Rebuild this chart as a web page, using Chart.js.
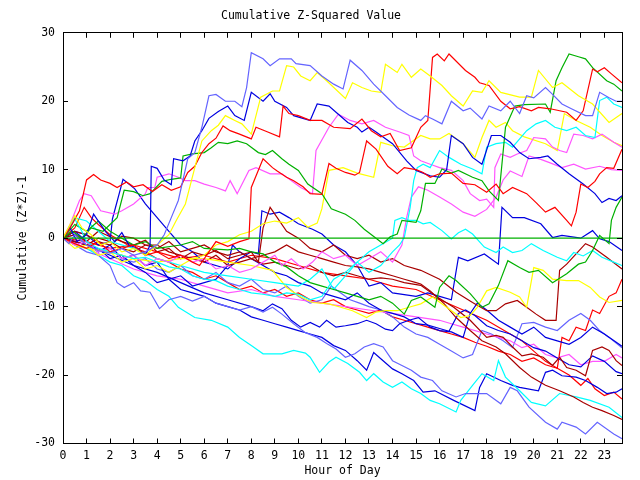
<!DOCTYPE html>
<html>
<head>
<meta charset="utf-8">
<script src="https://cdn.jsdelivr.net/npm/chart.js@4.4.1/dist/chart.umd.min.js"></script>
<style>
  html, body { margin: 0; padding: 0; background: #fff; }
</style>
</head>
<body>
<canvas id="zchart" width="640" height="480"></canvas>
<script>
// axis ticks
const hourTicks = [0,1,2,3,4,5,6,7,8,9,10,11,12,13,14,15,16,17,18,19,20,21,22,23];
const valueTicks = [-30,-20,-10,0,10,20,30];

// each series: [hour, cumulative value]
const zeroLine = [[0,0],[23.75,0]];

const lblueTop = [[0,0],[0.25,-0.8],[0.5,0.5],[1,-1],[1.5,-1.8],[2,-2.2],[2.5,-1.5],[3,-2.5],[3.5,-2],[4,-1],[4.3,0.5],[4.6,3],[4.9,5.5],[5.3,11.6],[5.6,12.5],[5.9,16.2],[6.2,20.8],[6.5,21],[6.9,20],[7.3,20],[7.6,19.2],[7.8,22],[8.0,27.1],[8.5,26.2],[8.8,25.2],[9.2,26.2],[9.7,26.2],[9.9,25.5],[10.5,25.2],[11,23.7],[11.5,22.5],[11.9,21.8],[12.2,26],[12.7,24.5],[13.2,22.5],[13.7,20.8],[14.2,19.1],[14.7,18],[15.2,17.2],[15.4,17.9],[15.7,17.4],[16.1,16.7],[16.5,20],[17,18.6],[17.3,19],[17.8,17.4],[18.1,19.3],[18.6,18.6],[19,20],[19.4,18.2],[19.7,20.8],[20,20.5],[20.5,22],[20.8,21],[21.2,19.6],[21.6,18.9],[22.2,17.9],[22.5,17.9],[22.8,21.3],[23.2,20.5],[23.5,20],[23.75,20]];

const yellowTop = [[0,0],[0.3,2],[0.5,3.3],[0.8,1.5],[1.2,0.5],[1.6,-1],[2,-0.5],[2.5,-2],[3,-1.5],[3.5,-2.5],[4,-1],[4.5,0.5],[4.8,2.5],[5.2,5],[5.6,10.3],[5.9,14.2],[6.3,15.7],[6.6,16.5],[6.9,17.9],[7.3,17.2],[7.6,16.7],[8.0,15.2],[8.4,20.6],[8.9,21.5],[9.2,21.5],[9.5,25.2],[9.8,25],[10.1,23.7],[10.5,23],[10.8,24.2],[11.2,23],[12,20.4],[12.3,22.7],[12.7,22],[13.1,21.5],[13.5,21.3],[13.7,25.4],[14.2,24.2],[14.4,25.4],[14.8,23.5],[15.2,24.7],[15.6,23.7],[16.1,22.3],[16.5,20.8],[17,19.3],[17.4,21.5],[17.8,21.3],[18.1,23],[18.6,21.3],[19.4,20.6],[19.9,20.6],[20.2,24.5],[20.8,22],[21.2,22.7],[21.9,20.8],[22.5,19.6],[23.2,16.9],[23.75,18.2]];

const redTop = [[0,0],[0.3,1.5],[0.7,4],[1,8.5],[1.3,9.3],[1.6,8.5],[2,8],[2.3,7.4],[2.7,8.2],[3,7.5],[3.4,7.8],[3.8,6.8],[4.2,7.8],[4.6,7],[5,7.5],[5.3,9.6],[5.6,10.5],[5.9,12.5],[6.2,13.8],[6.5,14.6],[6.8,16.4],[7.1,15.7],[7.5,15.2],[8.0,14.5],[8.2,16.2],[8.7,15.5],[9.2,14.8],[9.35,19.3],[9.6,18.2],[10,17.9],[10.5,17.2],[11,17.2],[11.5,16.2],[12.2,16],[12.7,17.4],[13.1,15.7],[13.5,14.8],[13.9,15.3],[14.3,12.8],[14.8,13.2],[15.2,16.2],[15.5,17.2],[15.7,26.4],[15.9,26.9],[16.2,25.9],[16.4,26.9],[17.1,24.5],[17.5,23.5],[17.7,22.7],[18.1,22.3],[18.6,20],[19,18.9],[19.4,19.2],[19.9,18.6],[20.2,19.1],[20.7,18.9],[21.4,18.4],[21.8,17.2],[22.1,18.6],[22.5,24.7],[22.7,24.3],[23,24.9],[23.3,24],[23.75,22.7]];

const redMid = [[0,0],[0.5,-0.8],[1,-1.5],[1.5,-0.5],[2,-2],[2.5,-1.5],[3,-1],[3.5,-2.5],[4,-2],[4.5,-3],[5,-2.5],[5.5,-3.5],[5.8,-4],[6.2,-2],[6.5,-0.5],[7,-1.2],[7.5,-0.5],[7.9,-0.1],[8.0,7.4],[8.5,11.6],[8.9,10.3],[9.1,9.8],[9.5,8.9],[9.8,8.4],[10.2,7.5],[10.5,6.5],[11,6.4],[11.3,10.9],[11.6,10.2],[12,9.6],[12.4,9.2],[12.6,9.6],[12.9,14.2],[13.3,13],[13.8,10.5],[14.2,9.4],[14.5,10.3],[15,10],[15.3,9.6],[15.6,8.9],[16,9.4],[16.5,9.5],[17,8],[17.5,7.8],[18,6.7],[18.4,7.9],[18.7,6.5],[19.1,7.4],[19.7,6.5],[20.1,5.2],[20.5,3.8],[20.9,4.5],[21.4,2.6],[21.6,1.8],[21.8,3.8],[22,7.9],[22.3,7.4],[22.6,8.3],[22.8,9.4],[23.1,10.3],[23.4,10.2],[23.75,13]];

const blueTop = [[0,0],[0.3,1.5],[0.6,-0.5],[1,0.5],[1.3,3.5],[1.5,2.5],[1.8,1],[2.2,-0.5],[2.5,0.8],[2.8,-1],[3.2,-1.5],[3.5,-2.5],[3.7,-1],[3.75,10.5],[4,10.2],[4.3,8.5],[4.6,7.8],[4.7,11.6],[5.1,11.3],[5.4,12],[5.6,14.2],[5.9,15.7],[6.2,17.5],[6.6,18.5],[7,19.3],[7.3,17.9],[7.7,17.2],[8,21.3],[8.5,20],[8.8,21.1],[9,20],[9.5,19.1],[9.8,17.9],[10.5,17.2],[10.8,19.6],[11.3,19.3],[11.6,18.4],[12.1,16.9],[12.5,16.2],[12.7,15.5],[13,16.2],[13.3,15.5],[14,13.8],[14.6,11.3],[15,9.9],[15.6,9.1],[16,8.9],[16.3,10],[16.5,15],[17,13.8],[17.4,11.8],[17.8,10.8],[18.2,15],[18.6,15],[19,14],[19.4,12.5],[19.8,11.6],[20.3,11.8],[20.6,12],[21,10.8],[21.5,9.4],[22.1,7.9],[22.6,6.5],[22.9,5.2],[23.2,5.8],[23.5,5.5],[23.75,6.2]];

const greenTop = [[0,0],[0.4,1],[0.8,0],[1.2,1.5],[1.7,1],[2,2],[2.3,3],[2.6,7],[3,6.8],[3.4,6.2],[3.7,6.5],[4.2,8.3],[4.6,8.6],[5,8.8],[5.1,12],[5.5,12.3],[6,12.5],[6.3,13.2],[6.6,14],[7,13.8],[7.4,14.2],[7.8,13.8],[8.3,12.5],[8.6,12.2],[8.9,12.8],[9.3,11.6],[9.6,10.8],[10,9.9],[10.4,7.9],[11,6.5],[11.4,4.3],[12,3.5],[12.4,2.6],[12.8,1.3],[13.3,0],[13.6,-0.8],[13.9,0.2],[14.2,0.6],[14.4,2.6],[15,2.3],[15.2,4],[15.4,8],[15.8,8],[16.1,10.1],[16.5,9.5],[16.8,9.9],[17.4,8.9],[17.8,8.4],[18.1,6.9],[18.5,5.5],[18.8,16.2],[19.2,19.3],[19.6,19.5],[20.5,19.6],[20.7,18.4],[20.95,23],[21.2,24.9],[21.5,26.9],[21.9,26.5],[22.2,26.2],[22.5,24.9],[23.1,23],[23.4,22.5],[23.75,21.5]];

const cyanTop = [[0,0],[0.3,1.5],[0.5,2.8],[0.8,1],[1,-0.5],[1.5,-1.5],[2,-2],[2.5,-2.5],[3,-3],[3.5,-2.8],[4,-3.5],[4.5,-4.2],[5,-4.5],[5.5,-5.5],[6,-6],[6.5,-6.2],[7,-7],[7.5,-7.5],[8,-8],[8.5,-8.2],[9,-8.5],[9.5,-8],[10,-8.2],[10.5,-9],[11,-8.5],[11.5,-6],[12,-5],[12.5,-3.5],[13,-5],[13.5,-4],[14,-2],[14.3,-1],[14.5,0.1],[14.75,4.5],[14.9,8.4],[15.05,10.3],[15.3,10.8],[15.6,10.3],[16,12.8],[16.4,11.8],[16.9,10.8],[17.4,10.1],[17.8,9.4],[18,13.3],[18.4,13.8],[18.8,14],[19.1,13.3],[19.7,15.7],[20.1,16.7],[20.5,17.2],[20.9,16.2],[21.4,15.7],[21.8,16.2],[22.2,15],[22.6,14.7],[22.8,20.1],[23.1,20.6],[23.4,19.6],[23.75,19.1]];

const magentaTop = [[0,0],[0.3,2],[0.7,5.5],[0.9,6.5],[1.2,6.2],[1.6,4],[2.2,3.5],[2.5,4],[3,5],[3.5,6.5],[3.6,7.4],[3.9,7.4],[4,8.9],[4.5,9.4],[4.9,8.9],[5.2,8.4],[5.6,8.4],[6,7.9],[6.5,7.4],[6.9,6.9],[7.1,8.4],[7.4,6.5],[7.9,9.9],[8.2,10.3],[8.8,9.4],[9.3,9.4],[10.1,7.4],[10.6,6.5],[10.75,12.8],[11.3,16.2],[11.7,18.1],[12.2,17.2],[12.7,16.7],[13.2,17.2],[13.7,16.2],[14.3,15.5],[14.7,15],[14.9,12],[15.2,11.3],[15.6,10.8],[16,10.3],[16.5,9.9],[17,8.4],[17.3,6.5],[17.7,5.5],[18,5.7],[18.3,4.5],[18.35,10.3],[18.6,12.3],[19,11.8],[19.3,12.3],[19.7,12.8],[20,14.7],[20.5,14.5],[20.8,13.3],[21.1,12.8],[21.4,12.5],[21.7,15.2],[22.1,15],[22.5,14.5],[22.9,15.2],[23.4,14],[23.75,13.3]];

const magentaMid = [[0,0],[0.5,-1],[1,-0.5],[1.5,-2],[2,-1.5],[2.5,-3],[3,-2.5],[3.5,-4],[4,-3],[4.5,-3.5],[5,-2.5],[5.5,-3.5],[6,-3],[6.5,-4.5],[7,-4],[7.5,-5],[8,-4.5],[8.5,-3.5],[9,-2.5],[9.3,-4],[9.7,-3],[10.2,-4.5],[10.6,-3.5],[11,-2],[11.5,-3],[12,-2.5],[12.5,-4],[13,-3],[13.5,-2],[14,-3.5],[14.4,-1],[14.6,3],[14.8,6],[15.1,7.5],[15.5,7],[16,6],[16.5,5],[17,3.8],[17.5,3.2],[18,4.2],[18.4,6],[18.7,8.5],[19,9.8],[19.5,9],[19.8,12],[20.3,11.5],[20.7,11],[21.2,10.3],[21.7,10.8],[22.2,10.1],[22.8,10.5],[23.3,10],[23.75,9.9]];

const yellowMid = [[0,0],[0.5,-1.5],[1,-1],[1.5,-2.5],[2,-2],[2.5,-3.5],[3,-3],[3.5,-4.5],[4,-4],[4.5,-5],[5,-4],[5.5,-3],[6,-2.5],[6.5,-1],[7,-0.5],[7.5,0.5],[8,1],[8.5,2.1],[9,2.5],[9.5,2.2],[10,3],[10.4,1.6],[10.8,2.2],[11,4.3],[11.3,9.9],[11.9,10.3],[12.5,9.5],[13.2,8.9],[13.5,14],[14,13.5],[14.5,13.3],[15.2,15],[15.6,14.5],[16,14.5],[16.4,15.3],[17,13.8],[17.5,11.8],[17.8,14.7],[18.1,17.2],[18.4,16.2],[18.8,16.9],[19.1,15.7],[19.6,14.8],[20.5,13.8],[21,12.8],[21.3,18.2],[21.8,17.2],[22.4,16.2],[22.9,15],[23.4,14],[23.75,13.5]];

const greenMid = [[0,0],[0.5,2],[1,1],[1.5,2.5],[2,1],[2.5,0],[3,-1],[3.5,-0.5],[4,-1.5],[5,-1],[5.5,-0.5],[6,-1.5],[7,-1.7],[7.5,-1.5],[8,-2],[8.5,-2.3],[9,-3.5],[9.5,-4.2],[10,-5.5],[10.5,-6.5],[11,-7],[11.5,-7.5],[12,-8],[12.5,-8.5],[13,-9],[13.5,-8.5],[14,-9.5],[14.5,-11.1],[14.8,-9.1],[15.2,-8.6],[15.8,-10.1],[16,-7.2],[16.4,-5.5],[16.7,-6.2],[17.3,-8.1],[17.8,-10.1],[18.1,-9.6],[18.5,-6.9],[18.9,-3.3],[19.4,-4.3],[19.8,-5],[20.2,-4.7],[20.8,-6.5],[21.4,-5.2],[21.9,-3.8],[22.2,-3.5],[22.5,-1.8],[22.8,0.4],[23.2,-0.8],[23.3,2.6],[23.5,4.5],[23.75,6]];

const cyanMid = [[0,0],[0.5,3],[1,2.5],[1.5,1],[2,-0.5],[3,-1.5],[4,-3],[5,-4],[6,-5],[7,-5.5],[8,-6],[9,-6.5],[10,-7],[10.5,-6],[11,-4.5],[11.5,-7.5],[12,-5.5],[12.5,-3.5],[13,-2],[13.5,-1],[14,0],[14.1,2.6],[14.4,3],[14.7,2.6],[15,2.6],[15.3,2.1],[15.6,2.3],[16.1,1.1],[16.5,-0.1],[16.8,0.8],[17.1,1.3],[17.4,0.6],[17.9,-1.3],[18.4,-2.1],[18.7,-1.3],[19.1,-2.1],[19.5,-1.8],[19.9,-0.8],[20.4,-1.8],[21,-2.8],[21.4,-3.3],[21.7,-2.1],[22.1,-2.6],[22.5,-1.8],[22.9,-2.8],[23.4,-3.5],[23.75,-4]];

const yellowLow = [[0,0],[0.5,-1],[1,-1.5],[2,-2],[3,-3],[4,-3.5],[5,-3],[6,-3],[7,-3.5],[8,-4],[8.9,-4.7],[9.5,-7.2],[10.1,-8.6],[10.6,-9.4],[11.3,-9.6],[11.8,-10.1],[12.3,-10.6],[12.9,-11.6],[13.3,-10.8],[13.7,-10.6],[14.2,-10.6],[14.7,-10.1],[15.2,-9.6],[15.7,-8.6],[16.3,-10.1],[16.9,-11.6],[17.3,-11.3],[17.6,-10.1],[18,-7.7],[18.4,-7.2],[19,-7.9],[19.4,-8.6],[19.7,-10.1],[20,-4.3],[20.4,-4.7],[20.8,-6],[21.4,-6.2],[21.9,-6.2],[22.4,-7.2],[22.8,-8.6],[23.2,-9.4],[23.75,-9.1]];

const dredLow = [[0,0],[0.5,1],[1,0.5],[1.5,-0.5],[2,-1],[2.5,0.3],[3,0],[3.5,-1],[4,-1.5],[4.5,-0.5],[5,-2],[5.5,-1.5],[6,-1],[6.5,-2],[7,-2.5],[7.5,-2],[8,-3],[8.5,-2.5],[9,-2],[9.5,-1],[10,-2],[10.5,-2.5],[11,-3],[11.5,-3.5],[12,-4],[12.5,-4.2],[13,-4.5],[13.5,-5],[14,-5.5],[14.5,-6],[15,-6.5],[15.2,-6.7],[15.6,-7.7],[16.2,-9.6],[16.7,-11.6],[17.3,-13.5],[17.8,-15],[18.4,-15.9],[18.8,-16.9],[19.4,-18.9],[19.9,-20.3],[20.5,-21.5],[21.1,-22.3],[21.7,-23.2],[22.1,-24],[22.5,-24.7],[22.9,-25.2],[23.4,-25.9],[23.75,-26.5]];

const dredMid = [[0,0],[0.5,-0.5],[1,-1],[1.5,0],[2,-0.5],[2.5,-1.5],[3,-2],[3.5,-1],[4,-1],[4.5,-2],[5,-2.5],[5.5,-3],[6,-3.5],[6.5,-2.5],[7,-4],[7.5,-3.5],[8,-3],[8.5,-3.8],[9,-3.5],[9.5,-4],[10,-4.5],[10.5,-4],[11,-5],[11.5,-5.5],[12,-5],[12.5,-5.5],[13,-6],[13.5,-5.8],[14,-6],[14.5,-6.5],[15.2,-6.9],[15.9,-8.6],[16.6,-10.1],[17.3,-12],[18,-14.5],[18.4,-14.2],[18.7,-14.5],[19.1,-15.9],[19.5,-17.2],[19.9,-16.9],[20.4,-17.4],[20.8,-18.6],[21.1,-17.4],[21.4,-18.9],[21.8,-19.3],[22.2,-20.1],[22.5,-16.4],[22.9,-15.9],[23.2,-16.4],[23.5,-17.9],[23.75,-18.6]];

const dredTop = [[0,0],[0.5,0.5],[1,-0.5],[1.5,1],[2,0.2],[2.5,-0.5],[3,-1],[3.5,-0.3],[4,-2],[4.5,-1.5],[5,-3],[5.5,-2],[6,-2.5],[6.5,-1.8],[7,-3],[7.5,-2.5],[8,-2],[8.3,-3.5],[8.5,1.5],[8.8,4.5],[9,3.5],[9.5,1],[10,0],[10.5,-1.5],[11,-2],[11.5,-1],[12,-2.5],[12.5,-3],[13,-2.5],[13.5,-3.5],[14,-3],[14.5,-4],[15.2,-4.7],[16,-6],[16.7,-7.9],[17.4,-9.4],[18,-10.6],[18.4,-10.6],[18.8,-9.6],[19.3,-9.1],[19.7,-10.1],[20.1,-11.1],[20.5,-12],[20.95,-12],[21.1,-4.7],[21.4,-3.8],[21.8,-2.3],[22.2,-0.8],[22.5,-1.3],[23.1,-2.8],[23.75,-4.5]];

const lblueLow = [[0,0],[0.5,-1],[1,-2],[1.5,-2.5],[2,-4],[2.3,-6.5],[2.6,-7.2],[3,-6.5],[3.3,-7.7],[3.7,-7.9],[4.1,-10.3],[4.5,-9],[5,-8.5],[5.5,-9.2],[6,-8.5],[6.5,-9.5],[7,-10],[7.5,-10.5],[8,-10],[8.5,-10.8],[8.9,-10.1],[9.3,-11.1],[9.8,-12.5],[10.3,-13.8],[10.8,-14.5],[11.2,-15.4],[11.6,-16.2],[12,-17.4],[12.4,-16.9],[12.8,-15.9],[13.2,-15.4],[13.6,-15.9],[14,-17.9],[14.4,-18.6],[14.8,-19.3],[15.2,-20.3],[15.7,-20.8],[16.1,-22.3],[16.7,-23.2],[17.1,-22.7],[18,-22.7],[18.6,-24.2],[19,-21.8],[19.3,-22.3],[19.8,-24.7],[20.5,-26.9],[21,-27.9],[21.2,-26.9],[21.8,-27.6],[22.2,-28.6],[22.7,-26.9],[23.4,-28.6],[23.75,-29.3]];

const cyanLow = [[0,0],[0.5,-1],[1,-1.5],[1.5,-2.5],[2,-3.5],[2.5,-4],[3,-5.5],[3.5,-6.2],[4,-7.5],[4.5,-8.5],[4.9,-10.1],[5.6,-11.6],[6.3,-12],[7,-13],[7.5,-14.5],[8,-15.7],[8.5,-16.9],[9.3,-16.9],[9.8,-16.4],[10.3,-16.8],[10.5,-17.4],[10.9,-19.6],[11.3,-18.1],[11.6,-17.4],[12.1,-18.3],[12.6,-19.6],[12.9,-20.8],[13.2,-19.8],[13.6,-21],[14,-21.8],[14.4,-21],[14.8,-22],[15.2,-22.7],[15.6,-23.7],[16,-24.2],[16.7,-25.4],[16.9,-23.7],[17.4,-21.5],[17.8,-19.8],[18.3,-20.8],[18.5,-17.9],[18.8,-20.3],[19.4,-22.3],[19.9,-24],[20.5,-24.5],[21.1,-22.7],[21.8,-23.2],[22.4,-23.7],[23.2,-24.7],[23.75,-26.2]];

const blueLow = [[0,0],[0.5,-0.5],[1,-1],[1.5,-1.5],[2,-3],[2.5,-2.5],[3,-4],[3.5,-5],[4,-6.5],[4.5,-6],[5,-7.5],[5.5,-8],[6,-8.5],[6.5,-9.5],[7,-10],[7.5,-10.5],[8,-11.5],[8.5,-12],[9,-12.5],[9.5,-13],[10,-13.5],[10.5,-14],[11,-14.5],[11.5,-15.7],[12,-16.4],[12.5,-17.9],[12.9,-19.3],[13.2,-16.7],[13.6,-17.9],[14,-19.1],[14.4,-19.8],[14.9,-20.8],[15.3,-22.5],[15.8,-22.3],[16.6,-23.7],[17.5,-25.2],[17.7,-21.8],[18,-19.8],[18.6,-20.8],[19.1,-21.5],[19.4,-21.8],[20.2,-22.3],[20.5,-19.6],[20.8,-19.3],[21.2,-20.1],[21.8,-20.3],[22.2,-20.8],[22.7,-21.8],[23.1,-22.7],[23.5,-22.5],[23.75,-22]];

const blueMid = [[0,0],[1,-1],[2,-2.5],[3,-4],[4,-5],[5,-6.5],[6,-8],[7,-9],[8,-10],[8.5,-10.6],[8.9,-9.6],[9.3,-10.3],[9.7,-12],[10.1,-13],[10.5,-12.3],[10.9,-13],[11.2,-12],[11.6,-13],[12,-12.8],[12.5,-12.5],[12.9,-12],[13.3,-12.5],[13.7,-13.3],[14,-13.5],[14.3,-12.5],[14.7,-12],[15.1,-11.6],[15.6,-13],[16,-13.5],[16.5,-13.7],[17,-14.5],[17.3,-11],[17.6,-9.5],[18,-10.5],[18.5,-12],[19,-13],[19.5,-14],[20,-13],[20.5,-14.5],[21,-15],[21.5,-15.5],[22,-14.5],[22.5,-13],[23,-14],[23.75,-15.8]];

const blueZero = [[0,0],[0.5,1],[1,0.5],[1.5,-1],[2,-0.5],[2.1,2.8],[2.55,8.6],[3.05,7.2],[3.5,5],[4,3],[4.5,1],[5,-1],[5.5,-2],[6,-3.5],[7,-4.5],[7.5,-3],[8,-2],[8.3,-2.3],[8.45,4],[8.8,3.5],[9.2,3.8],[9.6,3],[10,2.1],[10.6,1.3],[11,0.6],[11.5,-1],[12,-2],[12.5,-4],[13,-7],[13.5,-6.5],[14,-8],[15,-8.5],[15.5,-8],[16,-8.5],[16.5,-9],[16.8,-2.8],[17.2,-3.3],[17.9,-2.3],[18.5,-3.8],[18.65,4.5],[19.1,3],[19.6,3],[20.3,2.1],[20.8,0.1],[21.2,0.4],[22,0],[22.5,1.1],[22.8,-0.1],[23.2,-0.5],[23.75,-1.8]];

const blueLower = [[0,0],[0.5,1],[1,-0.5],[1.5,-2],[2,-1],[2.5,-3],[3,-2.5],[3.5,-4],[4,-3.5],[4.5,-6],[5,-5.5],[5.5,-7],[6,-6.5],[6.5,-6],[7,-4],[7.2,-1],[7.5,-2],[8,-3],[8.5,-4],[9,-5],[9.5,-5.5],[10,-6.5],[10.5,-7],[11,-8],[11.5,-8.5],[12,-9],[12.5,-8],[13,-9.5],[13.5,-10.5],[14,-11],[14.5,-11.5],[15,-12.5],[15.5,-12.7],[16,-13.2],[16.4,-13.6],[16.8,-11],[17.1,-10.5],[17.5,-11.3],[18,-12.8],[18.5,-13.5],[19,-14],[19.5,-15],[20,-16],[20.5,-16.5],[21,-17.5],[21.5,-18.5],[22,-18.8],[22.5,-17.2],[23,-18],[23.5,-19.5],[23.75,-19.8]];

const magentaLow = [[0,0],[1,-1.5],[2,-3],[3,-4.5],[4,-5.5],[5,-6],[6,-7],[7,-8],[8,-7.5],[9,-8.5],[10,-9],[11,-9.5],[12,-10],[13,-10.5],[14,-11],[15,-11.5],[16,-12],[16.5,-12.5],[17,-13],[18,-14],[19,-15],[19.5,-16],[20,-15.5],[20.5,-17],[21,-17.5],[21.5,-17],[22,-18.5],[22.5,-18],[23,-18],[23.5,-17],[23.75,-17.5]];

const lblueMid = [[0,0],[0.5,0.5],[1,-1],[1.5,-2],[2,-1.5],[2.5,-3],[3,-3.5],[3.5,-3],[4,-4.5],[4.5,-5],[5,-4],[5.5,-5.5],[6,-6],[6.5,-5],[7,-6.5],[7.5,-7],[8,-6],[8.5,-7.5],[9,-8],[9.5,-7],[10,-8.5],[10.5,-9.5],[11,-9],[11.4,-7],[11.8,-8],[12.2,-9],[12.6,-9.5],[13,-10],[13.5,-10.5],[14,-11.5],[14.5,-13],[15,-14],[15.5,-14.5],[16,-15.5],[16.5,-16.5],[17,-17.5],[17.4,-17],[17.8,-13.5],[18.2,-14],[18.7,-15],[19.1,-16],[19.5,-12.5],[20,-12.3],[20.5,-13],[21,-13.5],[21.5,-12],[22,-11],[22.4,-12],[22.8,-13.5],[23.2,-14.5],[23.75,-16]];

const redLow = [[0,0],[1,-0.5],[2,-1.5],[3,-1],[4,-2],[5,-3],[6,-2.5],[7,-3.5],[8,-2.5],[9,-3],[10,-4],[11,-5],[12,-5.5],[13,-6],[14,-7],[15,-7.5],[16,-9],[17,-10.5],[18,-12],[19,-14],[19.5,-15],[20,-16.5],[20.5,-18],[21,-19],[21.5,-20],[22,-21.5],[22.3,-20.5],[22.6,-22],[23,-23],[23.4,-22.5],[23.75,-23.5]];

const redRise = [[0,0],[0.5,1.5],[0.9,4.5],[1.2,3],[1.5,2],[2,0.5],[2.5,-0.5],[3,-1.5],[3.5,-2],[4,-3],[4.5,-3.5],[5,-4.5],[5.5,-5],[6,-6],[6.5,-5.5],[7,-6.5],[7.5,-7.5],[8,-7],[8.5,-8],[9,-7.5],[9.5,-8.5],[10,-8],[10.5,-9],[11,-9.5],[11.5,-9],[12,-10],[12.5,-10.5],[13,-11],[13.5,-10.5],[14,-11.5],[14.5,-12],[15,-12.5],[15.5,-13],[16,-13.5],[16.5,-14],[17,-14.5],[17.5,-15.2],[18,-15.8],[18.5,-16.5],[19,-17],[19.5,-18],[20,-17.5],[20.5,-18.5],[21,-19],[21.2,-14.5],[21.5,-15],[21.8,-13],[22.2,-13.5],[22.5,-10.5],[22.8,-11],[23.2,-8.5],[23.5,-8],[23.75,-6]];

const colors = {
  red: '#ff0000', green: '#00b000', blue: '#0000e0', lblue: '#6464ff',
  magenta: '#ff55ff', cyan: '#00ffff', yellow: '#ffff00', dred: '#a80000'
};

const series = [
  ['zero', colors.green, zeroLine],
  ['lblueTop', colors.lblue, lblueTop],
  ['yellowTop', colors.yellow, yellowTop],
  ['redTop', colors.red, redTop],
  ['redMid', colors.red, redMid],
  ['blueTop', colors.blue, blueTop],
  ['greenTop', colors.green, greenTop],
  ['cyanTop', colors.cyan, cyanTop],
  ['magentaTop', colors.magenta, magentaTop],
  ['magentaMid', colors.magenta, magentaMid],
  ['yellowMid', colors.yellow, yellowMid],
  ['greenMid', colors.green, greenMid],
  ['cyanMid', colors.cyan, cyanMid],
  ['yellowLow', colors.yellow, yellowLow],
  ['dredLow', colors.dred, dredLow],
  ['dredMid', colors.dred, dredMid],
  ['dredTop', colors.dred, dredTop],
  ['lblueLow', colors.lblue, lblueLow],
  ['cyanLow', colors.cyan, cyanLow],
  ['blueLow', colors.blue, blueLow],
  ['blueMid', colors.blue, blueMid],
  ['blueZero', colors.blue, blueZero],
  ['blueLower', colors.blue, blueLower],
  ['magentaLow', colors.magenta, magentaLow],
  ['lblueMid', colors.lblue, lblueMid],
  ['redLow', colors.red, redLow],
  ['redRise', colors.red, redRise]
];

Chart.defaults.font.family = '"DejaVu Sans Mono", monospace';
Chart.defaults.font.size = 11.5;
Chart.defaults.color = '#000';

// frame: every axis draws its own border with short inward tick marks
const frameBorder = { display: true, color: '#000', width: 1, z: 1 };
const frameGrid = { display: true, drawOnChartArea: false, drawTicks: true, tickLength: -5, color: '#000', lineWidth: 1, z: 1 };

new Chart(document.getElementById('zchart'), {
  type: 'line',
  data: {
    datasets: series.map(([name, color, pts]) => ({
      label: name,
      data: pts.map(([h, v]) => ({ x: h, y: v })),
      borderColor: color,
      borderWidth: 1.2,
      pointRadius: 0,
      tension: 0,
      fill: false
    }))
  },
  options: {
    responsive: false,
    animation: false,
    devicePixelRatio: 1,
    layout: { padding: { left: 0, right: 18, top: 0, bottom: 0 } },
    scales: {
      x: {
        type: 'linear',
        position: 'bottom',
        min: hourTicks[0],
        max: 23.75,
        grid: frameGrid,
        border: frameBorder,
        ticks: {
          stepSize: 1,
          includeBounds: false,
          autoSkip: false,
          maxRotation: 0,
          padding: 11
        },
        title: { display: true, text: 'Hour of Day', padding: { top: 0, bottom: 2 } },
        afterFit(s) { s.height = 36.5; }
      },
      xTop: {
        type: 'linear',
        position: 'top',
        min: hourTicks[0],
        max: 23.75,
        grid: frameGrid,
        border: frameBorder,
        ticks: { display: false, stepSize: 1, includeBounds: false },
        afterFit(s) { s.height = 0; }
      },
      y: {
        position: 'left',
        min: valueTicks[0],
        max: valueTicks[valueTicks.length - 1],
        grid: frameGrid,
        border: frameBorder,
        ticks: { stepSize: 10, padding: 13 },
        title: { display: true, text: 'Cumulative (Z*Z)-1', padding: { top: 16, bottom: 0 } },
        afterFit(s) { s.width = 63; }
      },
      yRight: {
        position: 'right',
        min: valueTicks[0],
        max: valueTicks[valueTicks.length - 1],
        grid: frameGrid,
        border: frameBorder,
        ticks: { display: false, stepSize: 10 },
        afterFit(s) { s.width = 0; }
      }
    },
    plugins: {
      legend: { display: false },
      tooltip: { enabled: false },
      title: {
        display: true,
        text: 'Cumulative Z-Squared Value',
        font: { weight: 'normal', size: 11.5 },
        padding: { top: 9, bottom: 10 }
      }
    }
  }
});
</script>
</body>
</html>
